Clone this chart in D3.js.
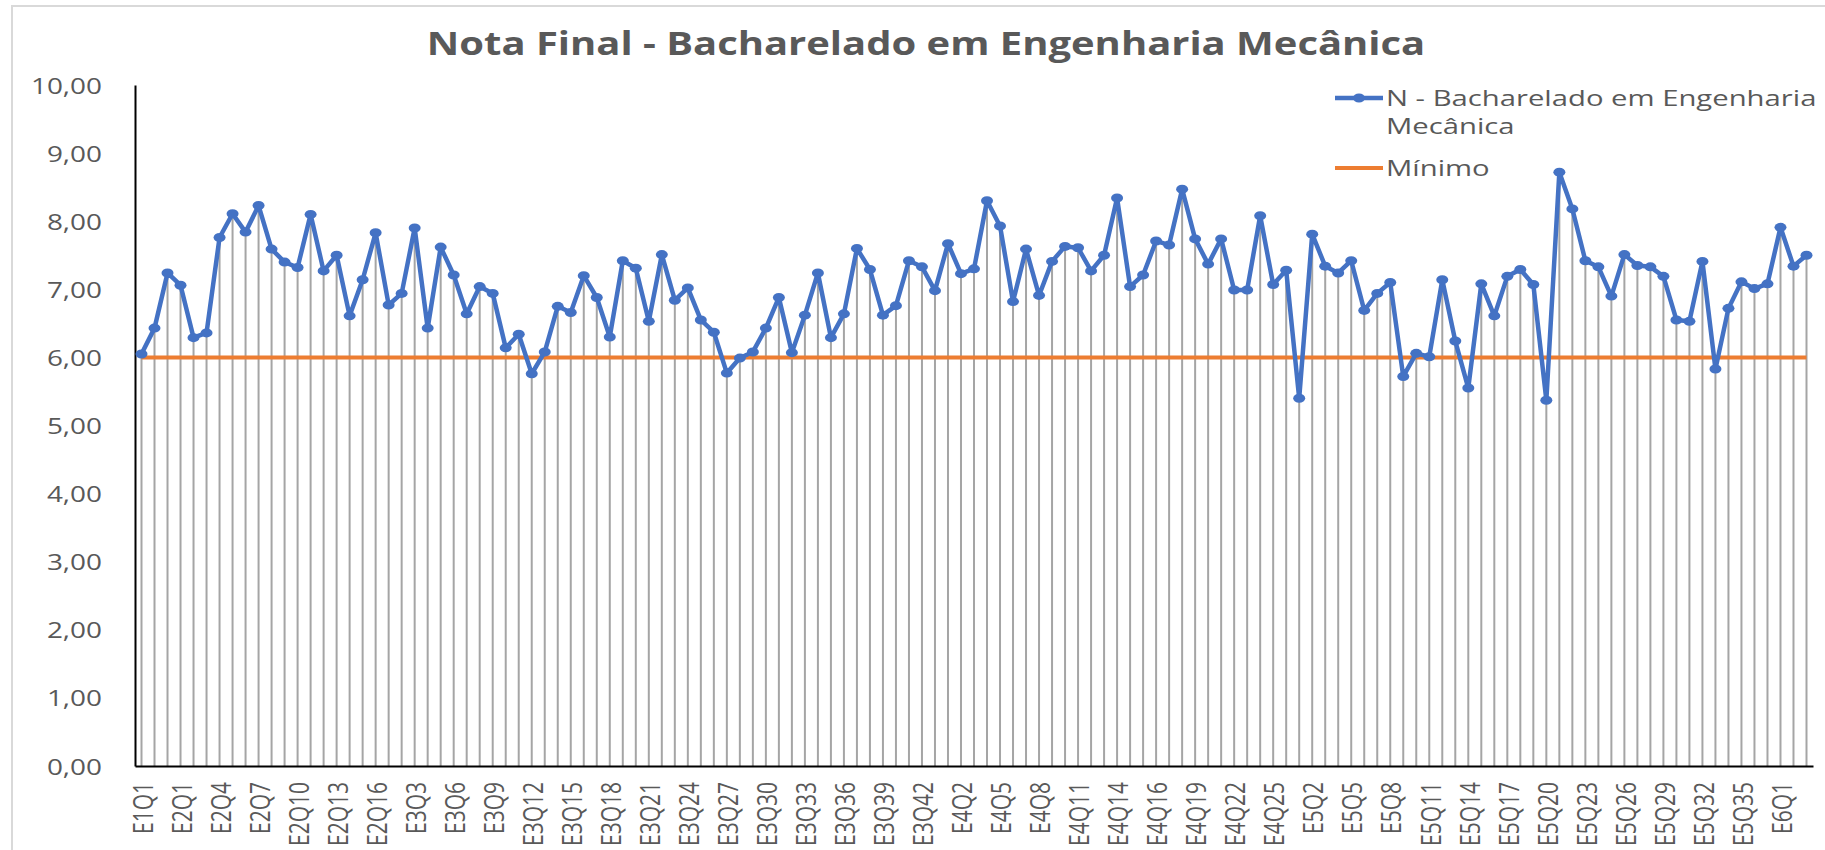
<!DOCTYPE html>
<html><head><meta charset="utf-8">
<script src="https://cdn.jsdelivr.net/npm/d3@7/dist/d3.min.js"></script>
<style>
html,body{margin:0;padding:0;background:#fff;}
svg{display:block;}
text{font-family:"Open Sans","Noto Sans",sans-serif;fill:#595959;}
</style></head>
<body>
<svg id="chart" width="1825" height="850"></svg>
<script>
const title = "Nota Final - Bacharelado em Engenharia Mecânica";
const seriesName = "N - Bacharelado em Engenharia Mecânica";
const minName = "Mínimo";
const minimo = 6.00;
const yTicks = [0,1,2,3,4,5,6,7,8,9,10];

const categories = [
"E1Q1","E1Q2","E1Q3",
"E2Q1","E2Q2","E2Q3","E2Q4","E2Q5","E2Q6","E2Q7","E2Q8","E2Q9","E2Q10","E2Q11","E2Q12","E2Q13","E2Q14","E2Q15","E2Q16",
"E3Q1","E3Q2","E3Q3","E3Q4","E3Q5","E3Q6","E3Q7","E3Q8","E3Q9","E3Q10","E3Q11","E3Q12","E3Q13","E3Q14","E3Q15","E3Q16","E3Q17","E3Q18","E3Q19","E3Q20","E3Q21","E3Q22","E3Q23","E3Q24","E3Q25","E3Q26","E3Q27","E3Q28","E3Q29","E3Q30","E3Q31","E3Q32","E3Q33","E3Q34","E3Q35","E3Q36","E3Q37","E3Q38","E3Q39","E3Q40","E3Q41","E3Q42","E3Q43",
"E4Q1","E4Q2","E4Q3","E4Q4","E4Q5","E4Q6","E4Q7","E4Q8","E4Q9","E4Q10","E4Q11","E4Q12","E4Q13","E4Q14","E4Q15","E4Q15A","E4Q16","E4Q17","E4Q18","E4Q19","E4Q20","E4Q21","E4Q22","E4Q23","E4Q24","E4Q25","E4Q26",
"E5Q1","E5Q2","E5Q3","E5Q4","E5Q5","E5Q6","E5Q7","E5Q8","E5Q9","E5Q10","E5Q11","E5Q12","E5Q13","E5Q14","E5Q15","E5Q16","E5Q17","E5Q18","E5Q19","E5Q20","E5Q21","E5Q22","E5Q23","E5Q24","E5Q25","E5Q26","E5Q27","E5Q28","E5Q29","E5Q30","E5Q31","E5Q32","E5Q33","E5Q34","E5Q35","E5Q36","E5Q37",
"E6Q1","E6Q2","E6Q3"
];

const values = [
6.05,6.43,7.24,7.06,6.29,6.36,7.76,8.11,7.84,8.23,
7.59,7.40,7.32,8.10,7.27,7.50,6.61,7.14,7.83,6.77,
6.94,7.90,6.43,7.62,7.21,6.64,7.04,6.94,6.14,6.34,
5.76,6.08,6.75,6.66,7.20,6.88,6.30,7.42,7.31,6.53,
7.51,6.84,7.02,6.55,6.37,5.77,5.99,6.08,6.43,6.88,
6.07,6.62,7.24,6.29,6.64,7.60,7.29,6.62,6.76,7.42,
7.33,6.98,7.67,7.23,7.30,8.30,7.93,6.82,7.59,6.91,
7.41,7.63,7.61,7.27,7.50,8.34,7.04,7.21,7.71,7.65,
8.47,7.74,7.37,7.74,6.99,6.99,8.08,7.07,7.28,5.40,
7.81,7.34,7.24,7.42,6.69,6.94,7.10,5.72,6.06,6.01,
7.14,6.24,5.55,7.08,6.61,7.19,7.29,7.07,5.37,8.72,
8.18,7.42,7.33,6.90,7.51,7.35,7.33,7.19,6.55,6.53,
7.41,5.83,6.72,7.11,7.01,7.08,7.91,7.34,7.50
];

const SX = 1.33; // horizontal stretch of the original picture
const svg = d3.select("#chart");
const idx = d3.range(categories.length);

const x = d3.scalePoint().domain(idx).range([135, 1813]).padding(0.5);
const y = d3.scaleLinear().domain([0, 10]).range([766, 85]);

// chart border
svg.append("rect").attr("x", 12).attr("y", 6).attr("width", 1900).attr("height", 900)
  .attr("fill", "none").attr("stroke", "#d9d9d9").attr("stroke-width", 2);

// title (fit to the reference width)
const tt = svg.append("text").attr("text-anchor", "middle")
  .attr("font-size", 32).attr("font-weight", 700).text(title);
const tw = tt.node().getComputedTextLength();
tt.attr("transform", `translate(926,55) scale(${999 / tw},1)`);

// drop lines
svg.append("g").selectAll("line").data(idx).join("line")
  .attr("x1", i => x(i)).attr("x2", i => x(i))
  .attr("y1", i => y(values[i])).attr("y2", y(0))
  .attr("stroke", "#a5a5a5").attr("stroke-width", 2);

// y axis
const yAxis = d3.axisLeft(y).tickValues(yTicks).tickSize(0).tickPadding(0)
  .tickFormat(d => d3.format(".2f")(d).replace(".", ","));
const gy = svg.append("g").attr("transform", "translate(135,0)").call(yAxis);
gy.select(".domain").attr("stroke", "#000").attr("stroke-width", 2);
gy.selectAll("text").attr("x", null).attr("dy", null)
  .attr("font-size", 21).attr("fill", "#595959")
  .attr("text-anchor", "end").attr("dominant-baseline", "central")
  .attr("transform", `translate(-33,0) scale(${SX},1)`);

// x axis
const xAxis = d3.axisBottom(x).tickValues(idx.filter(i => i % 3 === 0))
  .tickSize(0).tickFormat(i => categories[i]);
const gx = svg.append("g").attr("transform", `translate(0,${y(0)})`).call(xAxis);
gx.select(".domain").attr("stroke", "#000").attr("stroke-width", 2);
gx.selectAll("text").attr("y", null).attr("dy", null).attr("x", null)
  .attr("font-size", 21).attr("fill", "#595959")
  .attr("text-anchor", "end").attr("dominant-baseline", "central")
  .attr("transform", `translate(0,16) scale(${SX},1) rotate(-90)`);

// minimum line
svg.append("line").attr("x1", x(0)).attr("x2", x(idx.length - 1))
  .attr("y1", y(minimo)).attr("y2", y(minimo))
  .attr("stroke", "#ed7d31").attr("stroke-width", 4);

// data line
const line = d3.line().x(i => x(i)).y(i => y(values[i]));
svg.append("path").datum(idx).attr("d", line).attr("fill", "none")
  .attr("stroke", "#4472c4").attr("stroke-width", 4.5).attr("stroke-linejoin", "round");
svg.append("g").selectAll("ellipse").data(idx).join("ellipse")
  .attr("cx", i => x(i)).attr("cy", i => y(values[i]))
  .attr("rx", 6).attr("ry", 4.5).attr("fill", "#4472c4");

// legend
const lg = svg.append("g");
lg.append("line").attr("x1", 1335).attr("x2", 1383).attr("y1", 98).attr("y2", 98)
  .attr("stroke", "#4472c4").attr("stroke-width", 4.5);
lg.append("ellipse").attr("cx", 1359).attr("cy", 98).attr("rx", 6).attr("ry", 4.5).attr("fill", "#4472c4");
const words = seriesName.split(" ");
const line1 = words.slice(0, words.length - 1).join(" ");
const line2 = words[words.length - 1];
lg.append("text").attr("transform", `translate(1386,98) scale(${SX},1)`)
  .attr("font-size", 22).attr("dominant-baseline", "central").text(line1);
lg.append("text").attr("transform", `translate(1386,126) scale(${SX},1)`)
  .attr("font-size", 22).attr("dominant-baseline", "central").text(line2);
lg.append("line").attr("x1", 1335).attr("x2", 1383).attr("y1", 168).attr("y2", 168)
  .attr("stroke", "#ed7d31").attr("stroke-width", 4);
lg.append("text").attr("transform", `translate(1386,168) scale(${SX},1)`)
  .attr("font-size", 22).attr("dominant-baseline", "central").text(minName);
</script>
</body></html>
